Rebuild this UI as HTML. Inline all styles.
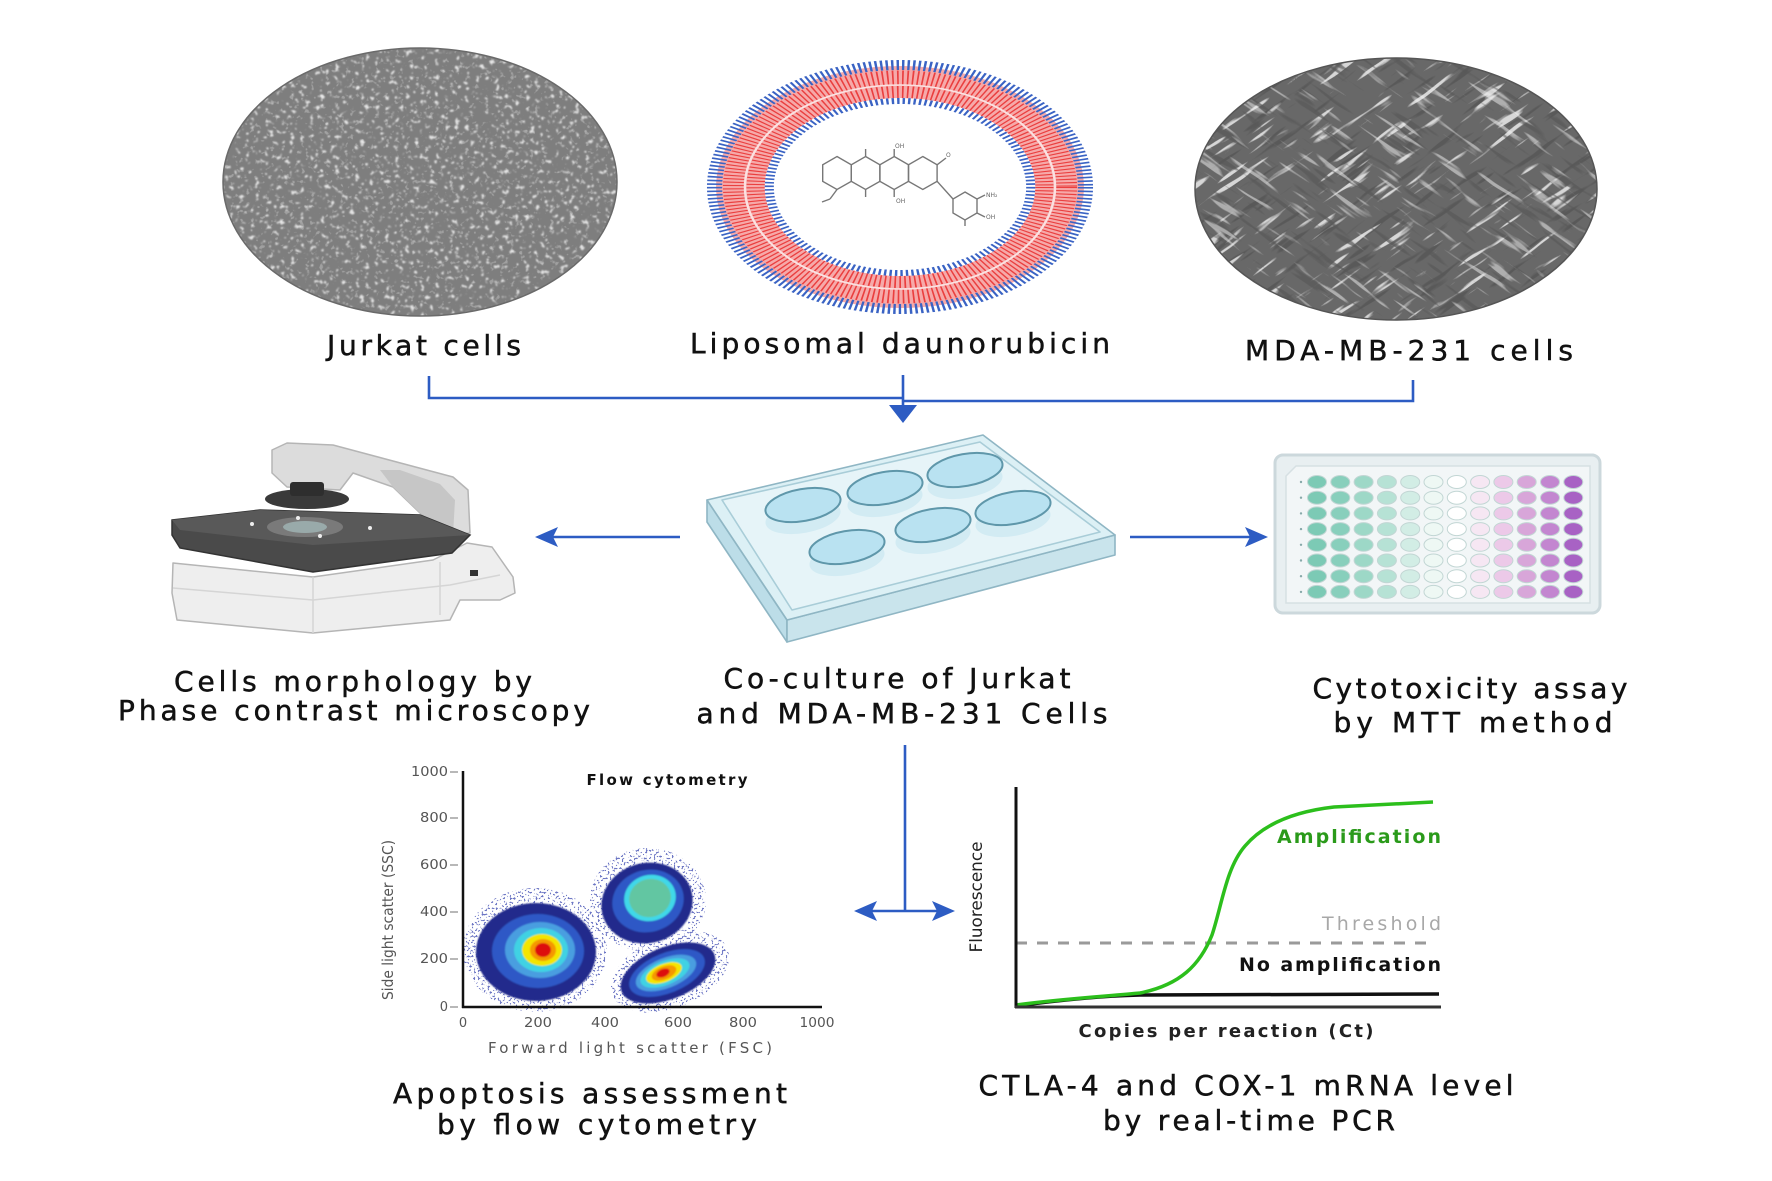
<!DOCTYPE html>
<html>
<head>
<meta charset="utf-8">
<style>
html,body{margin:0;padding:0;background:#fff;}
svg{display:block;}
.lbl{font-family:"DejaVu Sans","Liberation Sans",sans-serif;font-size:28px;fill:#111;stroke:#111;stroke-width:0.5;}
.sm{font-family:"DejaVu Sans","Liberation Sans",sans-serif;}
</style>
</head>
<body>
<svg width="1772" height="1181" viewBox="0 0 1772 1181" xmlns="http://www.w3.org/2000/svg">
<defs>
  <clipPath id="jkClip"><ellipse cx="420" cy="182" rx="197" ry="134"/></clipPath>
  <clipPath id="mdClip"><ellipse cx="1396" cy="189" rx="201" ry="131"/></clipPath>
  <filter id="jkSpots" x="0" y="0" width="1" height="1" filterUnits="objectBoundingBox">
    <feTurbulence type="fractalNoise" baseFrequency="0.2" numOctaves="2" seed="7"/>
    <feColorMatrix type="matrix" values="0 0 0 0 0.9  0 0 0 0 0.9  0 0 0 0 0.9  0 0 9 0 -5.6"/>
    <feGaussianBlur stdDeviation="0.7"/>
  </filter>
  <filter id="jkDark" x="0" y="0" width="1" height="1" filterUnits="objectBoundingBox">
    <feTurbulence type="fractalNoise" baseFrequency="0.2" numOctaves="2" seed="11"/>
    <feColorMatrix type="matrix" values="0 0 0 0 0.35  0 0 0 0 0.35  0 0 0 0 0.35  0 0 -8 0 3.0"/>
  </filter>
  <filter id="mdLight" x="0" y="0" width="1" height="1" filterUnits="objectBoundingBox">
    <feTurbulence type="fractalNoise" baseFrequency="0.02 0.16" numOctaves="2" seed="4"/>
    <feColorMatrix type="matrix" values="0 0 0 0 0.9  0 0 0 0 0.9  0 0 0 0 0.9  10 0 0 0 -6.3"/>
  </filter>
  <filter id="mdDark" x="0" y="0" width="1" height="1" filterUnits="objectBoundingBox">
    <feTurbulence type="fractalNoise" baseFrequency="0.02 0.16" numOctaves="2" seed="9"/>
    <feColorMatrix type="matrix" values="0 0 0 0 0.1  0 0 0 0 0.1  0 0 0 0 0.1  -10 0 0 0 3.8"/>
  </filter>
  <filter id="dots" x="0" y="0" width="1" height="1" filterUnits="objectBoundingBox">
    <feTurbulence type="fractalNoise" baseFrequency="0.5" numOctaves="1" seed="5"/>
    <feColorMatrix type="matrix" values="0 0 0 0 0.15  0 0 0 0 0.18  0 0 0 0 0.55  10 0 0 0 -5.6"/>
  </filter>
  <filter id="soft2"><feGaussianBlur stdDeviation="0.8"/></filter>
  <clipPath id="halo">
    <ellipse cx="535" cy="950" rx="72" ry="62"/>
    <ellipse cx="648" cy="900" rx="58" ry="52"/>
    <ellipse cx="670" cy="972" rx="62" ry="36" transform="rotate(-22 670 972)"/>
  </clipPath>
</defs>

<!-- ===== Jurkat cells image ===== -->
<ellipse cx="420" cy="182" rx="197" ry="134" fill="#7e7e7e"/>
<g clip-path="url(#jkClip)">
  <rect x="220" y="46" width="400" height="272" filter="url(#jkDark)"/>
  <rect x="220" y="46" width="400" height="272" filter="url(#jkSpots)" opacity="0.85"/>
</g>
<ellipse cx="420" cy="182" rx="197" ry="134" fill="none" stroke="#6a6a6a" stroke-width="1.5"/>

<!-- ===== Liposome ===== -->
<g transform="translate(900,187) scale(1.52,1)">
  <circle r="105" fill="none" stroke="#f6a9a9" stroke-width="32"/>
  <circle r="109" fill="none" stroke="#ea3f3f" stroke-width="15" stroke-dasharray="1.1 2.2"/>
  <circle r="95" fill="none" stroke="#ea3f3f" stroke-width="12" stroke-dasharray="1.1 2.2"/>
  <circle r="102" fill="none" stroke="#fbe1e1" stroke-width="1.6"/>
  <circle r="122" fill="none" stroke="#3a63c4" stroke-width="10" stroke-dasharray="1.6 2"/>
  <circle r="86" fill="none" stroke="#3a63c4" stroke-width="6" stroke-dasharray="1.6 2"/>
</g>
<!-- molecule -->
<g fill="none" stroke="#777" stroke-width="1.4">
  <polygon points="837,156.5 851.3,164.8 851.3,181.3 837,189.5 822.7,181.3 822.7,164.8"/>
  <polygon points="865.6,156.5 879.9,164.8 879.9,181.3 865.6,189.5 851.3,181.3 851.3,164.8"/>
  <polygon points="894.2,156.5 908.5,164.8 908.5,181.3 894.2,189.5 879.9,181.3 879.9,164.8"/>
  <polygon points="922.8,156.5 937.1,164.8 937.1,181.3 922.8,189.5 908.5,181.3 908.5,164.8"/>
  <polygon points="965,192 977,199 977,213 965,220 953,213 953,199"/>
  <line x1="865.6" y1="156.5" x2="865.6" y2="149"/>
  <line x1="894.2" y1="156.5" x2="894.2" y2="149"/>
  <line x1="865.6" y1="189.5" x2="865.6" y2="197"/>
  <line x1="894.2" y1="189.5" x2="894.2" y2="197"/>
  <line x1="937.1" y1="164.8" x2="946" y2="158"/>
  <line x1="937.1" y1="181.3" x2="953" y2="199"/>
  <line x1="837" y1="189.5" x2="830" y2="199"/>
  <line x1="830" y1="199" x2="822" y2="202"/>
  <line x1="977" y1="199" x2="985" y2="195"/>
  <line x1="977" y1="213" x2="985" y2="217"/>
  <line x1="965" y1="220" x2="965" y2="226"/>
</g>
<g class="sm" font-size="6" fill="#666">
  <text x="895" y="148">OH</text>
  <text x="946" y="157">O</text>
  <text x="986" y="197">NH₂</text>
  <text x="986" y="219">OH</text>
  <text x="896" y="203">OH</text>
</g>

<!-- ===== MDA-MB-231 image ===== -->
<ellipse cx="1396" cy="189" rx="201" ry="131" fill="#686868"/>
<g clip-path="url(#mdClip)">
  <g transform="rotate(-35 1396 189)">
    <rect x="1130" y="-90" width="540" height="560" filter="url(#mdDark)"/>
    <rect x="1130" y="-90" width="540" height="560" filter="url(#mdLight)" opacity="0.8"/>
  </g>
  <g transform="rotate(35 1396 189)">
    <rect x="1130" y="-90" width="540" height="560" filter="url(#mdDark)" opacity="0.7"/>
    <rect x="1130" y="-90" width="540" height="560" filter="url(#mdLight)" opacity="0.5"/>
  </g>
</g>
<ellipse cx="1396" cy="189" rx="201" ry="131" fill="none" stroke="#555" stroke-width="1.5"/>

<!-- ===== top labels ===== -->
<text class="lbl" x="424" y="355" text-anchor="middle" textLength="194" lengthAdjust="spacing">Jurkat cells</text>
<text class="lbl" x="900" y="353" text-anchor="middle" textLength="420" lengthAdjust="spacing">Liposomal daunorubicin</text>
<text class="lbl" x="1409" y="360" text-anchor="middle" textLength="328" lengthAdjust="spacing">MDA-MB-231 cells</text>

<!-- ===== top connector ===== -->
<g stroke="#2d5cc3" stroke-width="2.6" fill="none">
  <polyline points="429,376 429,398 903,398"/>
  <polyline points="903,401 1413,401 1413,380"/>
  <line x1="903" y1="375" x2="903" y2="410"/>
</g>
<polygon points="889,405 917,405 903,423" fill="#2d5cc3"/>

<!-- ===== Microscope ===== -->
<g stroke="#b5b5b5" stroke-width="1.5" stroke-linejoin="round">
  <polygon points="173,563 313,577 433,560 467,543 492,547 513,577 515,593 500,600 460,600 450,620 313,633 177,620 172,593" fill="#eeeeee"/>
  <polyline points="173,588 313,600 450,585 500,575" fill="none" stroke="#d5d5d5"/>
  <line x1="313" y1="577" x2="313" y2="633" stroke="#d5d5d5"/>
  <line x1="440" y1="562" x2="440" y2="615" stroke="#d5d5d5"/>
  <polygon points="272,450 287,443 333,445 453,477 468,490 470,533 453,535 420,513 393,487 353,473 340,490 287,487 272,473" fill="#dcdcdc"/>
  <polygon points="393,487 420,513 453,535 455,500 440,484 400,470 380,470" fill="#c6c6c6" stroke="none"/>
</g>
<rect x="470" y="570" width="8" height="6" fill="#333"/>
<ellipse cx="307" cy="499" rx="42" ry="10" fill="#3a3a3a"/>
<rect x="290" y="482" width="34" height="14" fill="#2e2e2e" rx="3"/>
<polygon points="172,520 260,510 420,515 470,535 452,553 313,572 180,548 172,535" fill="#4a4a4a" stroke="#333" stroke-width="1.5"/>
<polygon points="172,520 260,510 420,515 470,535 313,545 180,530" fill="#595959"/>
<ellipse cx="305" cy="527" rx="38" ry="10" fill="#7a7a7a"/>
<ellipse cx="305" cy="527" rx="22" ry="6" fill="#9aa"/>
<g fill="#eee"><circle cx="252" cy="524" r="2"/><circle cx="298" cy="518" r="2"/><circle cx="370" cy="528" r="2"/><circle cx="320" cy="536" r="2"/></g>

<!-- left arrow -->
<line x1="680" y1="537" x2="550" y2="537" stroke="#2d5cc3" stroke-width="2.6"/>
<polygon points="535,537 558,527 553,537 558,547" fill="#2d5cc3"/>

<!-- ===== 6-well plate ===== -->
<g stroke="#8fb6c4" stroke-width="1.6" stroke-linejoin="round">
  <polygon points="707,500 787,620 787,642 707,522" fill="#bcdde8"/>
  <polygon points="787,620 1115,535 1115,555 787,642" fill="#c9e4ec"/>
  <polygon points="707,500 983,435 1115,535 787,620" fill="#dcf0f5"/>
  <polygon points="722,500 980,442 1100,532 792,610" fill="#e6f4f8" stroke="#a9cdd8"/>
</g>
<g stroke="none" fill="#d2ebf3">
  <ellipse cx="803" cy="517" rx="38" ry="16" transform="rotate(-10 803 517)"/>
  <ellipse cx="885" cy="500" rx="38" ry="16" transform="rotate(-10 885 500)"/>
  <ellipse cx="965" cy="482" rx="38" ry="16" transform="rotate(-10 965 482)"/>
  <ellipse cx="847" cy="559" rx="38" ry="16" transform="rotate(-10 847 559)"/>
  <ellipse cx="933" cy="537" rx="38" ry="16" transform="rotate(-10 933 537)"/>
  <ellipse cx="1013" cy="520" rx="38" ry="16" transform="rotate(-10 1013 520)"/>
</g>
<g fill="#b9e2f1" stroke="#5f97aa" stroke-width="2">
  <ellipse cx="803" cy="505" rx="38" ry="16" transform="rotate(-10 803 505)"/>
  <ellipse cx="885" cy="488" rx="38" ry="16" transform="rotate(-10 885 488)"/>
  <ellipse cx="965" cy="470" rx="38" ry="16" transform="rotate(-10 965 470)"/>
  <ellipse cx="847" cy="547" rx="38" ry="16" transform="rotate(-10 847 547)"/>
  <ellipse cx="933" cy="525" rx="38" ry="16" transform="rotate(-10 933 525)"/>
  <ellipse cx="1013" cy="508" rx="38" ry="16" transform="rotate(-10 1013 508)"/>
</g>

<!-- right arrow -->
<line x1="1130" y1="537" x2="1250" y2="537" stroke="#2d5cc3" stroke-width="2.6"/>
<polygon points="1268,537 1245,527 1250,537 1245,547" fill="#2d5cc3"/>

<!-- ===== MTT 96-well plate ===== -->
<rect x="1275" y="455" width="325" height="158" rx="8" fill="#e8eff1" stroke="#ccd8dc" stroke-width="3"/>
<polygon points="1296,466 1590,466 1590,603 1286,603 1286,476" fill="#f2f6f7" stroke="#d6e0e3" stroke-width="1.5"/>
<g stroke="#c2d6d4" stroke-width="1">
  <g fill="#7ccab5">
    <ellipse cx="1317" cy="482" rx="9.5" ry="6.5"/><ellipse cx="1317" cy="497.7" rx="9.5" ry="6.5"/><ellipse cx="1317" cy="513.4" rx="9.5" ry="6.5"/><ellipse cx="1317" cy="529.1" rx="9.5" ry="6.5"/><ellipse cx="1317" cy="544.8" rx="9.5" ry="6.5"/><ellipse cx="1317" cy="560.5" rx="9.5" ry="6.5"/><ellipse cx="1317" cy="576.2" rx="9.5" ry="6.5"/><ellipse cx="1317" cy="591.9" rx="9.5" ry="6.5"/>
  </g>
  <g fill="#88cfbc">
    <ellipse cx="1340.3" cy="482" rx="9.5" ry="6.5"/><ellipse cx="1340.3" cy="497.7" rx="9.5" ry="6.5"/><ellipse cx="1340.3" cy="513.4" rx="9.5" ry="6.5"/><ellipse cx="1340.3" cy="529.1" rx="9.5" ry="6.5"/><ellipse cx="1340.3" cy="544.8" rx="9.5" ry="6.5"/><ellipse cx="1340.3" cy="560.5" rx="9.5" ry="6.5"/><ellipse cx="1340.3" cy="576.2" rx="9.5" ry="6.5"/><ellipse cx="1340.3" cy="591.9" rx="9.5" ry="6.5"/>
  </g>
  <g fill="#9dd8c7">
    <ellipse cx="1363.6" cy="482" rx="9.5" ry="6.5"/><ellipse cx="1363.6" cy="497.7" rx="9.5" ry="6.5"/><ellipse cx="1363.6" cy="513.4" rx="9.5" ry="6.5"/><ellipse cx="1363.6" cy="529.1" rx="9.5" ry="6.5"/><ellipse cx="1363.6" cy="544.8" rx="9.5" ry="6.5"/><ellipse cx="1363.6" cy="560.5" rx="9.5" ry="6.5"/><ellipse cx="1363.6" cy="576.2" rx="9.5" ry="6.5"/><ellipse cx="1363.6" cy="591.9" rx="9.5" ry="6.5"/>
  </g>
  <g fill="#b6e2d5">
    <ellipse cx="1386.9" cy="482" rx="9.5" ry="6.5"/><ellipse cx="1386.9" cy="497.7" rx="9.5" ry="6.5"/><ellipse cx="1386.9" cy="513.4" rx="9.5" ry="6.5"/><ellipse cx="1386.9" cy="529.1" rx="9.5" ry="6.5"/><ellipse cx="1386.9" cy="544.8" rx="9.5" ry="6.5"/><ellipse cx="1386.9" cy="560.5" rx="9.5" ry="6.5"/><ellipse cx="1386.9" cy="576.2" rx="9.5" ry="6.5"/><ellipse cx="1386.9" cy="591.9" rx="9.5" ry="6.5"/>
  </g>
  <g fill="#d2ede5">
    <ellipse cx="1410.2" cy="482" rx="9.5" ry="6.5"/><ellipse cx="1410.2" cy="497.7" rx="9.5" ry="6.5"/><ellipse cx="1410.2" cy="513.4" rx="9.5" ry="6.5"/><ellipse cx="1410.2" cy="529.1" rx="9.5" ry="6.5"/><ellipse cx="1410.2" cy="544.8" rx="9.5" ry="6.5"/><ellipse cx="1410.2" cy="560.5" rx="9.5" ry="6.5"/><ellipse cx="1410.2" cy="576.2" rx="9.5" ry="6.5"/><ellipse cx="1410.2" cy="591.9" rx="9.5" ry="6.5"/>
  </g>
  <g fill="#eef8f4">
    <ellipse cx="1433.5" cy="482" rx="9.5" ry="6.5"/><ellipse cx="1433.5" cy="497.7" rx="9.5" ry="6.5"/><ellipse cx="1433.5" cy="513.4" rx="9.5" ry="6.5"/><ellipse cx="1433.5" cy="529.1" rx="9.5" ry="6.5"/><ellipse cx="1433.5" cy="544.8" rx="9.5" ry="6.5"/><ellipse cx="1433.5" cy="560.5" rx="9.5" ry="6.5"/><ellipse cx="1433.5" cy="576.2" rx="9.5" ry="6.5"/><ellipse cx="1433.5" cy="591.9" rx="9.5" ry="6.5"/>
  </g>
  <g fill="#ffffff">
    <ellipse cx="1456.8" cy="482" rx="9.5" ry="6.5"/><ellipse cx="1456.8" cy="497.7" rx="9.5" ry="6.5"/><ellipse cx="1456.8" cy="513.4" rx="9.5" ry="6.5"/><ellipse cx="1456.8" cy="529.1" rx="9.5" ry="6.5"/><ellipse cx="1456.8" cy="544.8" rx="9.5" ry="6.5"/><ellipse cx="1456.8" cy="560.5" rx="9.5" ry="6.5"/><ellipse cx="1456.8" cy="576.2" rx="9.5" ry="6.5"/><ellipse cx="1456.8" cy="591.9" rx="9.5" ry="6.5"/>
  </g>
  <g fill="#f6e7f3">
    <ellipse cx="1480.1" cy="482" rx="9.5" ry="6.5"/><ellipse cx="1480.1" cy="497.7" rx="9.5" ry="6.5"/><ellipse cx="1480.1" cy="513.4" rx="9.5" ry="6.5"/><ellipse cx="1480.1" cy="529.1" rx="9.5" ry="6.5"/><ellipse cx="1480.1" cy="544.8" rx="9.5" ry="6.5"/><ellipse cx="1480.1" cy="560.5" rx="9.5" ry="6.5"/><ellipse cx="1480.1" cy="576.2" rx="9.5" ry="6.5"/><ellipse cx="1480.1" cy="591.9" rx="9.5" ry="6.5"/>
  </g>
  <g fill="#ecc9e8">
    <ellipse cx="1503.4" cy="482" rx="9.5" ry="6.5"/><ellipse cx="1503.4" cy="497.7" rx="9.5" ry="6.5"/><ellipse cx="1503.4" cy="513.4" rx="9.5" ry="6.5"/><ellipse cx="1503.4" cy="529.1" rx="9.5" ry="6.5"/><ellipse cx="1503.4" cy="544.8" rx="9.5" ry="6.5"/><ellipse cx="1503.4" cy="560.5" rx="9.5" ry="6.5"/><ellipse cx="1503.4" cy="576.2" rx="9.5" ry="6.5"/><ellipse cx="1503.4" cy="591.9" rx="9.5" ry="6.5"/>
  </g>
  <g fill="#d8a6d9">
    <ellipse cx="1526.7" cy="482" rx="9.5" ry="6.5"/><ellipse cx="1526.7" cy="497.7" rx="9.5" ry="6.5"/><ellipse cx="1526.7" cy="513.4" rx="9.5" ry="6.5"/><ellipse cx="1526.7" cy="529.1" rx="9.5" ry="6.5"/><ellipse cx="1526.7" cy="544.8" rx="9.5" ry="6.5"/><ellipse cx="1526.7" cy="560.5" rx="9.5" ry="6.5"/><ellipse cx="1526.7" cy="576.2" rx="9.5" ry="6.5"/><ellipse cx="1526.7" cy="591.9" rx="9.5" ry="6.5"/>
  </g>
  <g fill="#c386d0">
    <ellipse cx="1550" cy="482" rx="9.5" ry="6.5"/><ellipse cx="1550" cy="497.7" rx="9.5" ry="6.5"/><ellipse cx="1550" cy="513.4" rx="9.5" ry="6.5"/><ellipse cx="1550" cy="529.1" rx="9.5" ry="6.5"/><ellipse cx="1550" cy="544.8" rx="9.5" ry="6.5"/><ellipse cx="1550" cy="560.5" rx="9.5" ry="6.5"/><ellipse cx="1550" cy="576.2" rx="9.5" ry="6.5"/><ellipse cx="1550" cy="591.9" rx="9.5" ry="6.5"/>
  </g>
  <g fill="#a862c4">
    <ellipse cx="1573.3" cy="482" rx="9.5" ry="6.5"/><ellipse cx="1573.3" cy="497.7" rx="9.5" ry="6.5"/><ellipse cx="1573.3" cy="513.4" rx="9.5" ry="6.5"/><ellipse cx="1573.3" cy="529.1" rx="9.5" ry="6.5"/><ellipse cx="1573.3" cy="544.8" rx="9.5" ry="6.5"/><ellipse cx="1573.3" cy="560.5" rx="9.5" ry="6.5"/><ellipse cx="1573.3" cy="576.2" rx="9.5" ry="6.5"/><ellipse cx="1573.3" cy="591.9" rx="9.5" ry="6.5"/>
  </g>
</g>
<g fill="#8aa">
  <circle cx="1301" cy="482" r="1.2"/><circle cx="1301" cy="497.7" r="1.2"/><circle cx="1301" cy="513.4" r="1.2"/><circle cx="1301" cy="529.1" r="1.2"/><circle cx="1301" cy="544.8" r="1.2"/><circle cx="1301" cy="560.5" r="1.2"/><circle cx="1301" cy="576.2" r="1.2"/><circle cx="1301" cy="591.9" r="1.2"/>
</g>

<!-- ===== middle labels ===== -->
<text class="lbl" x="353" y="691" text-anchor="middle" textLength="358" lengthAdjust="spacing">Cells morphology by</text>
<text class="lbl" x="354" y="720" text-anchor="middle" textLength="472" lengthAdjust="spacing">Phase contrast microscopy</text>
<text class="lbl" x="897" y="688" text-anchor="middle" textLength="347" lengthAdjust="spacing">Co-culture of Jurkat</text>
<text class="lbl" x="902" y="723" text-anchor="middle" textLength="411" lengthAdjust="spacing">and MDA-MB-231 Cells</text>
<text class="lbl" x="1470" y="698" text-anchor="middle" textLength="315" lengthAdjust="spacing">Cytotoxicity assay</text>
<text class="lbl" x="1473" y="732" text-anchor="middle" textLength="279" lengthAdjust="spacing">by MTT method</text>

<!-- ===== lower connector ===== -->
<g stroke="#2d5cc3" stroke-width="2.6" fill="none">
  <line x1="905" y1="745" x2="905" y2="911"/>
  <line x1="868" y1="911" x2="942" y2="911"/>
</g>
<polygon points="854,911 877,901 872,911 877,921" fill="#2d5cc3"/>
<polygon points="955,911 932,901 937,911 932,921" fill="#2d5cc3"/>

<!-- ===== Flow cytometry chart ===== -->
<g clip-path="url(#halo)">
  <rect x="455" y="840" width="300" height="180" filter="url(#dots)"/>
</g>
<g filter="url(#soft2)">
  <ellipse cx="536" cy="952" rx="60" ry="49" fill="#222b8c"/>
  <ellipse cx="538" cy="951" rx="46" ry="37" fill="#2e58c6"/>
  <ellipse cx="540" cy="950" rx="35" ry="28" fill="#4a9ee0"/>
  <ellipse cx="541" cy="950" rx="27" ry="22" fill="#3fd2e3"/>
  <ellipse cx="542" cy="950" rx="20" ry="16" fill="#f4e500"/>
  <ellipse cx="543" cy="950" rx="13" ry="11" fill="#f59800"/>
  <ellipse cx="543" cy="950" rx="8" ry="7" fill="#dd1010"/>

  <ellipse cx="647" cy="903" rx="46" ry="40" fill="#222b8c" transform="rotate(-15 647 903)"/>
  <ellipse cx="648" cy="901" rx="36" ry="31" fill="#2e58c6" transform="rotate(-15 648 901)"/>
  <ellipse cx="650" cy="898" rx="26" ry="23" fill="#3fd8e8" transform="rotate(-15 650 898)"/>
  <ellipse cx="650" cy="898" rx="21" ry="19" fill="#62c6a2" transform="rotate(-15 650 898)"/>

  <ellipse cx="668" cy="973" rx="50" ry="26" fill="#222b8c" transform="rotate(-22 668 973)"/>
  <ellipse cx="667" cy="973" rx="40" ry="20" fill="#2e58c6" transform="rotate(-22 667 973)"/>
  <ellipse cx="666" cy="973" rx="32" ry="15" fill="#4a9ee0" transform="rotate(-22 666 973)"/>
  <ellipse cx="665" cy="973" rx="26" ry="12" fill="#3fd2e3" transform="rotate(-22 665 973)"/>
  <ellipse cx="664" cy="973" rx="19" ry="9" fill="#f4e500" transform="rotate(-22 664 973)"/>
  <ellipse cx="664" cy="973" rx="13" ry="6.5" fill="#f59800" transform="rotate(-22 664 973)"/>
  <ellipse cx="663" cy="973" rx="7" ry="4" fill="#dd1010" transform="rotate(-22 663 973)"/>
</g>
<g stroke="#111" stroke-width="2.5">
  <line x1="463" y1="771" x2="463" y2="1008"/>
  <line x1="462" y1="1007" x2="822" y2="1007"/>
</g>
<g stroke="#888" stroke-width="1.2">
  <line x1="450" y1="772" x2="458" y2="772"/><line x1="450" y1="818" x2="458" y2="818"/><line x1="450" y1="865" x2="458" y2="865"/><line x1="450" y1="912" x2="458" y2="912"/><line x1="450" y1="959" x2="458" y2="959"/><line x1="450" y1="1007" x2="458" y2="1007"/>
</g>
<g class="sm" font-size="13" fill="#555" text-anchor="end">
  <text x="448" y="776" textLength="37" lengthAdjust="spacingAndGlyphs">1000</text>
  <text x="448" y="822" textLength="28" lengthAdjust="spacingAndGlyphs">800</text>
  <text x="448" y="869" textLength="28" lengthAdjust="spacingAndGlyphs">600</text>
  <text x="448" y="916" textLength="28" lengthAdjust="spacingAndGlyphs">400</text>
  <text x="448" y="963" textLength="28" lengthAdjust="spacingAndGlyphs">200</text>
  <text x="448" y="1011">0</text>
</g>
<g class="sm" font-size="13" fill="#555" text-anchor="middle">
  <text x="463" y="1027">0</text>
  <text x="538" y="1027" textLength="28" lengthAdjust="spacingAndGlyphs">200</text>
  <text x="605" y="1027" textLength="28" lengthAdjust="spacingAndGlyphs">400</text>
  <text x="678" y="1027" textLength="28" lengthAdjust="spacingAndGlyphs">600</text>
  <text x="743" y="1027" textLength="28" lengthAdjust="spacingAndGlyphs">800</text>
  <text x="817" y="1027" textLength="35" lengthAdjust="spacingAndGlyphs">1000</text>
</g>
<text class="sm" x="667" y="785" font-size="15" font-weight="bold" fill="#111" text-anchor="middle" textLength="161" lengthAdjust="spacing">Flow cytometry</text>
<text class="sm" x="630" y="1053" font-size="15" fill="#555" text-anchor="middle" textLength="284" lengthAdjust="spacing">Forward light scatter (FSC)</text>
<text class="sm" x="0" y="0" font-size="15" fill="#555" text-anchor="middle" textLength="160" lengthAdjust="spacingAndGlyphs" transform="translate(393,920) rotate(-90)">Side light scatter (SSC)</text>

<!-- ===== PCR chart ===== -->
<line x1="1016" y1="943" x2="1433" y2="943" stroke="#9a9a9a" stroke-width="3" stroke-dasharray="11 10"/>
<path d="M1016,1006 C1060,1000 1100,996 1140,995 L1439,994" fill="none" stroke="#111" stroke-width="3.5"/>
<path d="M1016,1005 C1060,999 1110,996 1140,993 C1180,985 1200,965 1212,935 C1222,905 1226,868 1245,846 C1262,826 1290,812 1334,807 L1433,802" fill="none" stroke="#2cbf1c" stroke-width="3.5"/>
<g stroke="#111" stroke-width="3">
  <line x1="1016" y1="787" x2="1016" y2="1008"/>
  <line x1="1015" y1="1007" x2="1441" y2="1007" stroke="#333"/>
</g>
<text class="sm" x="1441" y="843" font-size="19" font-weight="bold" fill="#2a9a1a" text-anchor="end" textLength="164" lengthAdjust="spacing">Amplification</text>
<text class="sm" x="1441" y="930" font-size="19" fill="#a8a8a8" text-anchor="end" textLength="119" lengthAdjust="spacing">Threshold</text>
<text class="sm" x="1441" y="971" font-size="19" font-weight="bold" fill="#111" text-anchor="end" textLength="202" lengthAdjust="spacing">No amplification</text>
<text class="sm" x="1226" y="1037" font-size="18" font-weight="bold" fill="#222" text-anchor="middle" textLength="295" lengthAdjust="spacing">Copies per reaction (Ct)</text>
<text class="sm" x="0" y="0" font-size="17" fill="#222" text-anchor="middle" textLength="111" lengthAdjust="spacingAndGlyphs" transform="translate(982,897) rotate(-90)">Fluorescence</text>

<!-- ===== bottom labels ===== -->
<text class="lbl" x="590" y="1103" text-anchor="middle" textLength="394" lengthAdjust="spacing">Apoptosis assessment</text>
<text class="lbl" x="597" y="1134" text-anchor="middle" textLength="320" lengthAdjust="spacing">by flow cytometry</text>
<text class="lbl" x="1246" y="1095" text-anchor="middle" textLength="535" lengthAdjust="spacing">CTLA-4 and COX-1 mRNA level</text>
<text class="lbl" x="1249" y="1130" text-anchor="middle" textLength="292" lengthAdjust="spacing">by real-time PCR</text>
</svg>
</body>
</html>
